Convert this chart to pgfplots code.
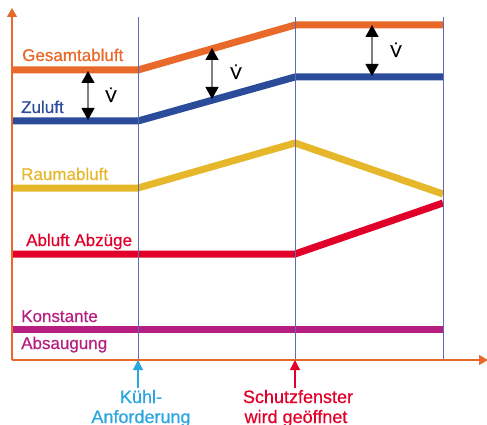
\documentclass[border=0pt]{standalone}
\usepackage{pgfplots}
\pgfplotsset{compat=1.18}
\usepackage{fontspec}
\setmainfont{Liberation Sans}[FakeBold=0.6]
\usetikzlibrary{arrows.meta}
\definecolor{cOr}{HTML}{E8692A}
\definecolor{cBl}{HTML}{2B4C9B}
\definecolor{cYe}{HTML}{E6B72A}
\definecolor{cRe}{HTML}{E0002A}
\definecolor{cMa}{HTML}{B61F7F}
\definecolor{cCy}{HTML}{2AA6E0}
\definecolor{cVl}{HTML}{5A6DB0}
\begin{document}
\begin{tikzpicture}
\begin{axis}[hide axis, scale only axis, width=487pt, height=425pt,
  xmin=0, xmax=487, ymin=0, ymax=425, y dir=reverse, clip=false]
% data lines
\addplot[cOr, line width=7pt, mark=none] coordinates {(12,70)(138,70)(295,25)(443,25)};
\addplot[cBl, line width=7pt, mark=none] coordinates {(12,121)(138,121)(295,77)(443,77)};
\addplot[cYe, line width=7pt, mark=none] coordinates {(12,188)(138,188)(295,143)(443,194)};
\addplot[cRe, line width=7pt, mark=none] coordinates {(12,254)(138,254)(295,254)(443,203)};
\addplot[cMa, line width=7pt, mark=none] coordinates {(12,329)(138,329)(295,329)(443,329)};
% vertical lines
\addplot[cVl, line width=1pt, mark=none] coordinates {(138,17)(138,360)};
\addplot[cVl, line width=1pt, mark=none] coordinates {(295,17)(295,360)};
\addplot[cVl, line width=1pt, mark=none] coordinates {(443,17)(443,360)};
% axes
\draw[cOr, line width=1.2pt, -{Triangle[length=9pt,width=10pt]}] (axis cs:12,360) -- (axis cs:12,8);
\draw[cOr, line width=1.2pt, -{Triangle[length=9pt,width=10pt]}] (axis cs:12,360) -- (axis cs:488,360);
% event markers
\draw[cCy, line width=1.2pt, -{Triangle[length=10pt,width=10pt]}] (axis cs:138,388) -- (axis cs:138,360);
\draw[cRe, line width=1.2pt, -{Triangle[length=10pt,width=10pt]}] (axis cs:295,388) -- (axis cs:295,360);
% double arrows
\draw[gray, line width=1.3pt, {Triangle[black,length=12pt,width=13pt]}-{Triangle[black,length=12pt,width=13pt]}] (axis cs:88,71) -- (axis cs:88,120);
\draw[gray, line width=1.3pt, {Triangle[black,length=12pt,width=13pt]}-{Triangle[black,length=12pt,width=13pt]}] (axis cs:212,48) -- (axis cs:212,99);
\draw[gray, line width=1.3pt, {Triangle[black,length=12pt,width=13pt]}-{Triangle[black,length=12pt,width=13pt]}] (axis cs:372,25) -- (axis cs:372,76);
\node[anchor=base, font=\fontsize{17}{20}\selectfont] at (axis cs:111,102) {\.{V}};
\node[anchor=base, font=\fontsize{17}{20}\selectfont] at (axis cs:236,79) {\.{V}};
\node[anchor=base, font=\fontsize{17}{20}\selectfont] at (axis cs:396,57) {\.{V}};
% labels
\begin{scope}[every node/.style={anchor=base west, inner sep=0pt, font=\fontsize{17}{20}\selectfont}]
\node[cOr] at (axis cs:22,61) {Gesamtabluft};
\node[cBl] at (axis cs:21,113) {Zuluft};
\node[cYe] at (axis cs:21,180) {Raumabluft};
\node[cRe] at (axis cs:26,246) {Abluft Abzüge};
\node[cMa] at (axis cs:21,322) {Konstante};
\node[cMa] at (axis cs:21,349) {Absaugung};
\end{scope}
\begin{scope}[every node/.style={anchor=base, inner sep=0pt, font=\fontsize{18}{21}\selectfont}]
\node[cCy] at (axis cs:141,403) {Kühl-};
\node[cCy] at (axis cs:141,423) {Anforderung};
\node[cRe] at (axis cs:298,403) {Schutzfenster};
\node[cRe] at (axis cs:296,423) {wird geöffnet};
\end{scope}
\end{axis}
\pgfresetboundingbox
\path (current axis.south west) rectangle (current axis.north east);
\end{tikzpicture}
\end{document}
